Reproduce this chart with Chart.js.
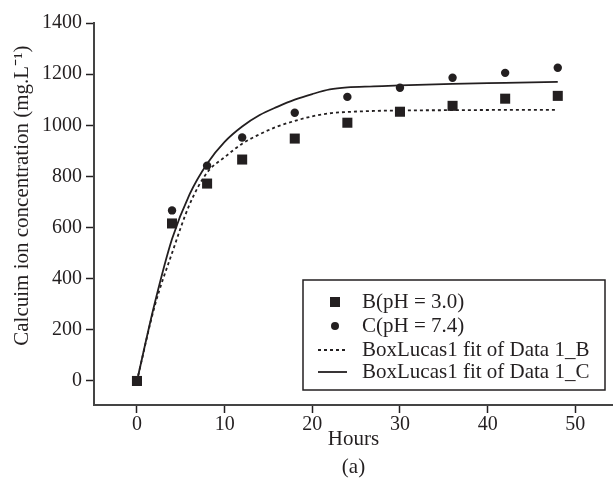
<!DOCTYPE html>
<html>
<head>
<meta charset="utf-8">
<script src="https://cdn.jsdelivr.net/npm/chart.js@4/dist/chart.umd.min.js"></script>
<style>
  body { margin: 0; background: #fff; }
  canvas { display: block; }
</style>
</head>
<body>
<canvas id="grafico" width="613" height="478"></canvas>
<script>
// Dados
const hours = [0, 4, 8, 12, 18, 24, 30, 36, 42, 48];
const calciumB = [0, 616, 772, 866, 948, 1010, 1053, 1076, 1104, 1115];
const calciumC = [0, 667, 842, 952, 1049, 1111, 1147, 1186, 1205, 1225];

const fitHours = [0, 2, 4, 6, 8, 10, 12, 14, 16, 18, 20, 22, 24, 27, 30, 36, 42, 48];
const fitB = [0, 290, 500, 690, 815, 875, 928, 965, 995, 1017, 1035, 1047, 1052, 1056, 1058, 1059, 1060, 1060];
const fitC = [0, 300, 555, 730, 850, 935, 995, 1040, 1072, 1100, 1122, 1140, 1148, 1152, 1156, 1162, 1166, 1170];

const xTicks = [0, 10, 20, 30, 40, 50];
const yTicks = [0, 200, 400, 600, 800, 1000, 1200, 1400];

const legendLabels = ["B(pH = 3.0)", "C(pH = 7.4)", "BoxLucas1 fit of Data 1_B", "BoxLucas1 fit of Data 1_C"];

const ink = "#231f20";
const fonte = "'Liberation Serif', 'Times New Roman', serif";

const pts = (xs, ys) => xs.map((x, i) => ({ x, y: ys[i] }));

// Legenda dentro da área do gráfico
const legendaBox = {
  id: "legendaBox",
  afterDraw(chart) {
    const { ctx, chartArea } = chart;
    const left = chartArea.left + 209;
    const right = chartArea.right - 8;
    const bottom = chartArea.bottom - 15;
    const top = bottom - 110;
    ctx.save();
    ctx.fillStyle = "#fff";
    ctx.fillRect(left, top, right - left, bottom - top);
    ctx.strokeStyle = ink;
    ctx.lineWidth = 1.5;
    ctx.strokeRect(left, top, right - left, bottom - top);

    const rows = [top + 22, top + 46, top + 70, top + 92];
    const symX = left + 32;
    ctx.fillStyle = ink;
    // quadrado
    ctx.fillRect(symX - 5, rows[0] - 5, 10, 10);
    // círculo
    ctx.beginPath();
    ctx.arc(symX, rows[1], 4, 0, Math.PI * 2);
    ctx.fill();
    // pontilhada
    ctx.lineWidth = 1.8;
    ctx.setLineDash([3, 3]);
    ctx.beginPath();
    ctx.moveTo(symX - 17, rows[2]);
    ctx.lineTo(symX + 12, rows[2]);
    ctx.stroke();
    // contínua
    ctx.setLineDash([]);
    ctx.beginPath();
    ctx.moveTo(symX - 17, rows[3]);
    ctx.lineTo(symX + 12, rows[3]);
    ctx.stroke();

    ctx.font = "21px " + fonte;
    ctx.textBaseline = "middle";
    legendLabels.forEach((t, i) => ctx.fillText(t, left + 59, rows[i]));
    ctx.restore();
  }
};

const ctx = document.getElementById("grafico").getContext("2d");
new Chart(ctx, {
  type: "scatter",
  data: {
    datasets: [
      {
        label: legendLabels[0],
        data: pts(hours, calciumB),
        pointStyle: "rect",
        pointRadius: 7.1,
        backgroundColor: ink,
        borderColor: ink,
        borderWidth: 0,
        showLine: false
      },
      {
        label: legendLabels[1],
        data: pts(hours, calciumC),
        pointStyle: "circle",
        pointRadius: 4.2,
        backgroundColor: ink,
        borderColor: ink,
        borderWidth: 0,
        showLine: false
      },
      {
        label: legendLabels[2],
        data: pts(fitHours, fitB),
        showLine: true,
        pointRadius: 0,
        borderColor: ink,
        borderWidth: 1.8,
        borderDash: [3, 3],
        cubicInterpolationMode: "monotone"
      },
      {
        label: legendLabels[3],
        data: pts(fitHours, fitC),
        showLine: true,
        pointRadius: 0,
        borderColor: ink,
        borderWidth: 1.8,
        cubicInterpolationMode: "monotone"
      }
    ]
  },
  options: {
    responsive: false,
    animation: false,
    layout: { autoPadding: false, padding: { top: 23, right: 0, left: 0, bottom: 0 } },
    plugins: {
      legend: { display: false },
      tooltip: { enabled: false }
    },
    scales: {
      x: {
        type: "linear",
        min: -4.9,
        max: 54.3,
        afterBuildTicks: (s) => { s.ticks = xTicks.map(v => ({ value: v })); },
        afterFit: (s) => { s.height = 73; },
        grid: { drawOnChartArea: false, color: ink, tickLength: 8, tickWidth: 1.5 },
        border: { color: "#444", width: 2 },
        ticks: { color: ink, padding: 0, font: { family: fonte, size: 20 }, callback: (v) => String(v) },
        title: {
          display: true,
          text: ["Hours", "(a)"],
          color: ink,
          padding: { top: 0, bottom: -4 },
          font: { family: fonte, size: 21, lineHeight: 1.35 }
        }
      },
      y: {
        min: -94,
        max: 1400,
        afterBuildTicks: (s) => { s.ticks = yTicks.map(v => ({ value: v })); },
        afterFit: (s) => { s.width = 94; },
        grid: { drawOnChartArea: false, color: ink, tickLength: 8, tickWidth: 1.5 },
        border: { color: "#444", width: 2 },
        ticks: { color: ink, padding: 4, font: { family: fonte, size: 20 }, callback: (v) => String(v) },
        title: {
          display: true,
          text: "       Calcuim ion concentration (mg.L⁻¹)",
          color: ink,
          padding: { top: 10, bottom: 0 },
          font: { family: fonte, size: 21 }
        }
      }
    }
  },
  plugins: [legendaBox]
});
</script>
</body>
</html>
